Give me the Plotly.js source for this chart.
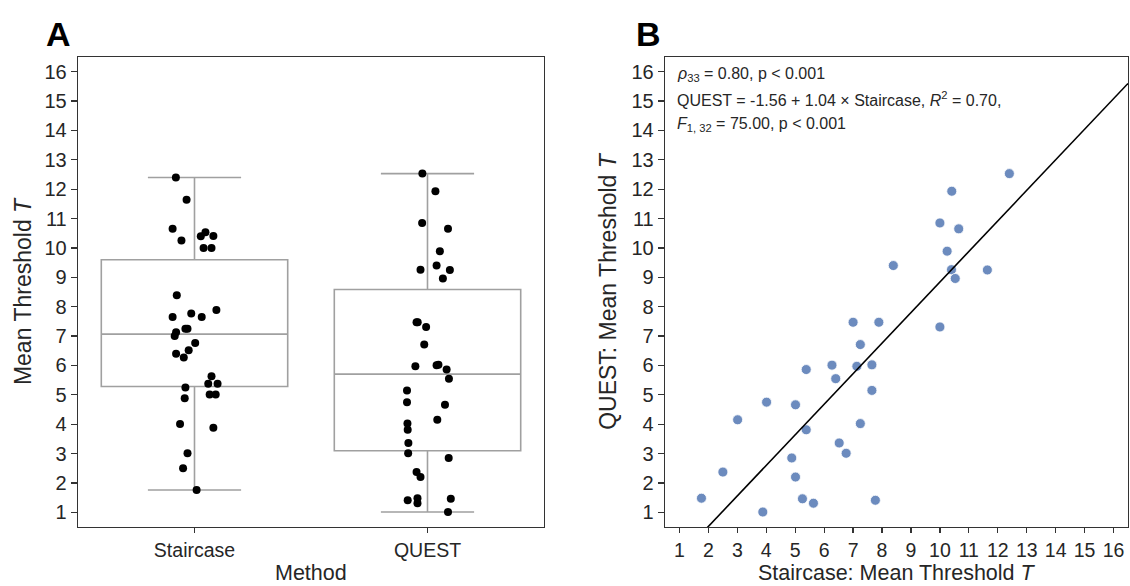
<!DOCTYPE html>
<html>
<head>
<meta charset="utf-8">
<script src="https://cdn.plot.ly/plotly-3.0.1.min.js"></script>
<style>html,body{margin:0;padding:0;background:#fff;}#chart{width:1130px;height:586px;}</style>
</head>
<body>
<div id="chart"></div>
<script>
// Paired observations (one per participant)
var staircase = [1.76,2.50,3.01,3.88,4.01,4.88,5.01,5.01,5.25,5.38,5.38,5.63,6.27,6.40,6.52,6.76,7.00,7.13,7.25,7.25,7.65,7.65,7.77,7.89,8.39,10.00,10.00,10.25,10.40,10.41,10.53,10.65,11.64,12.40];
var quest     = [1.48,2.37,4.15,1.01,4.75,2.85,4.66,2.20,1.46,5.86,3.81,1.31,6.01,5.55,3.36,3.01,7.47,5.97,6.71,4.02,6.02,5.15,1.41,7.47,9.40,10.85,7.31,9.89,9.26,11.93,8.96,10.65,9.25,12.53];
// Horizontal strip jitter (category units)
var stairJitter = [0.009,-0.049,-0.030,0.081,-0.062,-0.042,0.065,0.091,-0.039,0.059,0.099,0.073,-0.046,-0.079,-0.025,0.003,-0.085,-0.079,-0.039,-0.030,-0.094,0.031,-0.014,0.094,-0.076,0.039,0.073,-0.056,0.027,0.081,0.047,-0.094,-0.034,-0.080];
var questJitter = [-0.043,-0.047,0.042,0.088,-0.088,0.091,0.075,-0.030,0.100,0.082,-0.085,-0.043,0.039,0.092,-0.082,-0.083,-0.047,-0.052,-0.014,-0.086,0.047,-0.088,-0.085,-0.042,0.039,-0.023,-0.006,0.053,-0.030,0.034,0.066,0.088,0.096,-0.022];
var methods = ['Staircase','QUEST'];
var tickValues = [1,2,3,4,5,6,7,8,9,10,11,12,13,14,15,16];
var fitIntercept = -1.56, fitSlope = 1.04;

function quant(arr, p){
  var s = arr.slice().sort(function(a,b){return a-b;});
  var pos = (s.length-1)*p, lo = Math.floor(pos), hi = Math.ceil(pos);
  return s[lo] + (s[hi]-s[lo])*(pos-lo);
}
function boxStats(arr){
  var q1 = quant(arr,0.25), q3 = quant(arr,0.75), med = quant(arr,0.5), iqr = q3-q1;
  var inside = arr.filter(function(v){return v>=q1-1.5*iqr && v<=q3+1.5*iqr;});
  return {q1:q1, q3:q3, med:med, lo:Math.min.apply(null,inside), hi:Math.max.apply(null,inside)};
}
var sb = boxStats(staircase), qb = boxStats(quest);

var gray = 'rgb(160,160,160)';
var ink = '#262626';
var font = 'Liberation Sans, Arial, sans-serif';

var traces = [
  {type:'box', x:[0,1], q1:[sb.q1,qb.q1], median:[sb.med,qb.med], q3:[sb.q3,qb.q3],
   lowerfence:[sb.lo,qb.lo], upperfence:[sb.hi,qb.hi], width:0.8, whiskerwidth:0.5,
   line:{color:gray,width:1.6}, fillcolor:'rgba(255,255,255,0)', boxpoints:false,
   xaxis:'x', yaxis:'y', hoverinfo:'skip', showlegend:false},
  {type:'scatter', mode:'markers', x:stairJitter.map(function(j){return 0+j;}), y:staircase,
   marker:{color:'#000', size:8}, xaxis:'x', yaxis:'y', showlegend:false},
  {type:'scatter', mode:'markers', x:questJitter.map(function(j){return 1+j;}), y:quest,
   marker:{color:'#000', size:8}, xaxis:'x', yaxis:'y', showlegend:false},
  {type:'scatter', mode:'markers', x:staircase, y:quest,
   marker:{color:'rgba(76,114,176,0.82)', size:10, line:{color:'#fff',width:0.8}},
   xaxis:'x2', yaxis:'y2', showlegend:false},
  {type:'scatter', mode:'lines', x:[0.5,16.5], y:[fitIntercept+fitSlope*0.5, fitIntercept+fitSlope*16.5],
   line:{color:'#000',width:1.6}, xaxis:'x2', yaxis:'y2', showlegend:false}
];

var axBase = {showline:true, mirror:true, linecolor:'#333', linewidth:1.3, ticks:'outside', ticklen:6,
  tickwidth:1.2, tickcolor:'#333', showgrid:false, zeroline:false, automargin:false,
  tickfont:{family:font, size:20, color:ink}, title:{font:{family:font, size:23, color:ink}}};
function ax(o){ var r = JSON.parse(JSON.stringify(axBase)); for (var k in o){ if(k==='title'){r.title.text=o.title; if(o.standoff!==undefined) r.title.standoff=o.standoff;} else r[k]=o[k]; } return r; }

var titleFont = {family:font, size:21.5, color:ink};
var layout = {
  width:1130, height:586, margin:{l:0,r:0,t:0,b:0}, paper_bgcolor:'#fff', plot_bgcolor:'#fff',
  font:{family:font, color:ink},
  xaxis: ax({domain:[78/1130,544/1130], range:[-0.5,1.5], tickvals:[0,1], ticktext:methods, anchor:'y', ticklen:5, tickfont:{family:font,size:19.5,color:ink}}),
  yaxis: ax({domain:[1-527/586,1-57/586], range:[0.5,16.5], tickvals:tickValues, title:'Mean Threshold <i>T</i>', standoff:6, anchor:'x'}),
  xaxis2: ax({domain:[665/1130,1128/1130], range:[0.5,16.5], tickvals:tickValues, anchor:'y2', ticklen:5, tickfont:{family:font,size:19.5,color:ink}}),
  yaxis2: ax({domain:[1-527/586,1-57/586], range:[0.5,16.5], tickvals:tickValues, title:'QUEST: Mean Threshold <i>T</i>', standoff:8, anchor:'x2'}),
  annotations:[
    {text:'Method', xref:'x domain', yref:'paper', x:0.5, y:0, xanchor:'center', yanchor:'bottom', borderpad:0, showarrow:false, font:titleFont},
    {text:'Staircase: Mean Threshold <i>T</i>', xref:'x2 domain', yref:'paper', x:0.5, y:0, xanchor:'center', yanchor:'bottom', borderpad:0, showarrow:false, font:titleFont},
    {text:'<b>A</b>', xref:'paper', yref:'paper', x:58/1130, y:1-34/586, xanchor:'center', yanchor:'middle', showarrow:false, font:{family:font,size:34,color:'#000'}},
    {text:'<b>B</b>', xref:'paper', yref:'paper', x:648/1130, y:1-34/586, xanchor:'center', yanchor:'middle', showarrow:false, font:{family:font,size:34,color:'#000'}},
    {text:'<i>ρ</i><sub>33</sub> = 0.80, p < 0.001', xref:'paper', yref:'paper', x:675/1130, y:1-74/586, xanchor:'left', yanchor:'middle', showarrow:false, font:{family:font,size:16,color:ink}},
    {text:'QUEST = -1.56 + 1.04 × Staircase, <i>R</i><sup>2</sup> = 0.70,', xref:'paper', yref:'paper', x:675/1130, y:1-99/586, xanchor:'left', yanchor:'middle', showarrow:false, font:{family:font,size:16,color:ink}},
    {text:'<i>F</i><sub>1, 32</sub> = 75.00, p < 0.001', xref:'paper', yref:'paper', x:675/1130, y:1-125/586, xanchor:'left', yanchor:'middle', showarrow:false, font:{family:font,size:16,color:ink}}
  ]
};
Plotly.newPlot('chart', traces, layout, {displayModeBar:false, staticPlot:true});
</script>
</body>
</html>
